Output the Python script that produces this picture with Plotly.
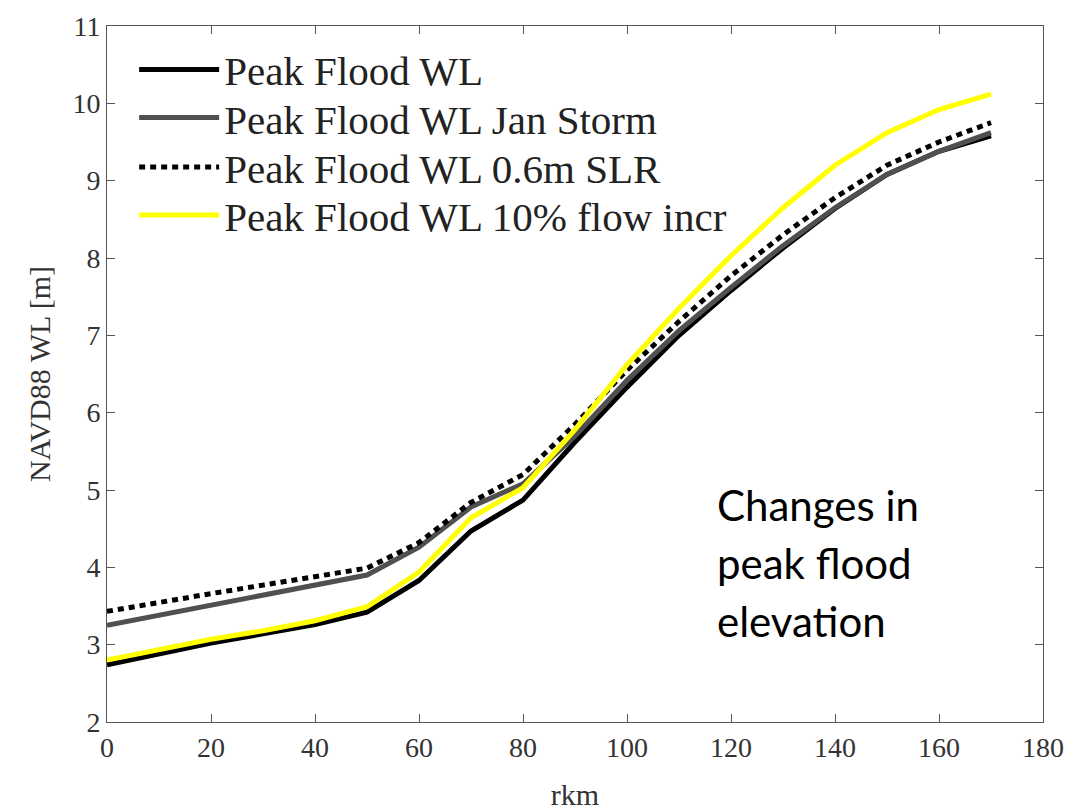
import plotly.graph_objects as go

rkm = [0, 10, 20, 30, 40, 50, 60, 70, 80, 90, 100, 110, 120, 130, 140, 150, 160, 170]
wl_peak = [2.74, 2.88, 3.02, 3.14, 3.26, 3.42, 3.83, 4.47, 4.87, 5.62, 6.33, 7.00, 7.58, 8.13, 8.64, 9.08, 9.38, 9.58]
wl_jan = [3.25, 3.38, 3.51, 3.64, 3.77, 3.90, 4.26, 4.78, 5.08, 5.70, 6.42, 7.06, 7.62, 8.16, 8.65, 9.08, 9.38, 9.62]
wl_slr = [3.43, 3.55, 3.66, 3.77, 3.88, 3.99, 4.32, 4.84, 5.20, 5.85, 6.55, 7.18, 7.77, 8.30, 8.78, 9.20, 9.50, 9.75]
wl_flow = [2.80, 2.94, 3.07, 3.18, 3.31, 3.49, 3.94, 4.64, 5.03, 5.78, 6.62, 7.35, 8.03, 8.65, 9.20, 9.62, 9.92, 10.12]

names = ["Peak Flood WL", "Peak Flood WL Jan Storm", "Peak Flood WL 0.6m SLR", "Peak Flood WL 10% flow incr"]
series = [wl_peak, wl_jan, wl_slr, wl_flow]
colors = ["#000000", "#505050", "#000000", "#ffff00"]
dashes = ["solid", "solid", "6px,5px", "solid"]
legend_ids = ["legend", "legend2", "legend3", "legend4"]
legend_y = [0.937, 0.868, 0.797, 0.728]

fig = go.Figure()
for n, s, c, d, lg in zip(names, series, colors, dashes, legend_ids):
    fig.add_trace(go.Scatter(x=rkm, y=s, mode="lines", name=n, legend=lg,
                             line=dict(color=c, width=5, dash=d)))

serif = "Liberation Serif"
axis_common = dict(showline=True, linecolor="#555555", linewidth=1, mirror="ticks",
                   ticks="inside", ticklen=8, tickcolor="#555555", showgrid=False,
                   zeroline=False, automargin=False,
                   tickfont=dict(family=serif, size=28, color="#333333"))

layout = dict(
    width=1078, height=811,
    margin=dict(l=107, r=35, t=26, b=89),
    paper_bgcolor="white", plot_bgcolor="white",
    xaxis=dict(range=[0, 180], dtick=20, tick0=0,
               title=dict(text="rkm", font=dict(family=serif, size=30, color="#333333"), standoff=22),
               **axis_common),
    yaxis=dict(range=[2, 11], dtick=1, tick0=2,
               title=dict(text="NAVD88 WL [m]", font=dict(family=serif, size=30, color="#333333"), standoff=12),
               **axis_common),
    showlegend=True,
)
for lg, ly in zip(legend_ids, legend_y):
    layout[lg] = dict(x=0.029, y=ly, xanchor="left", yanchor="middle",
                      bgcolor="rgba(0,0,0,0)", borderwidth=0,
                      font=dict(family=serif, size=41, color="#222222"),
                      itemwidth=80)
fig.update_layout(**layout)

note_lines = ["Changes in", "peak flood", "elevation"]
note_y = [0.312, 0.228, 0.145]
for t, yy in zip(note_lines, note_y):
    fig.add_annotation(text=t, xref="paper", yref="paper", x=0.65, y=yy,
                       xanchor="left", yanchor="middle", showarrow=False,
                       font=dict(family="Lato", size=42, color="#000000"))

fig.write_html("out.html")
